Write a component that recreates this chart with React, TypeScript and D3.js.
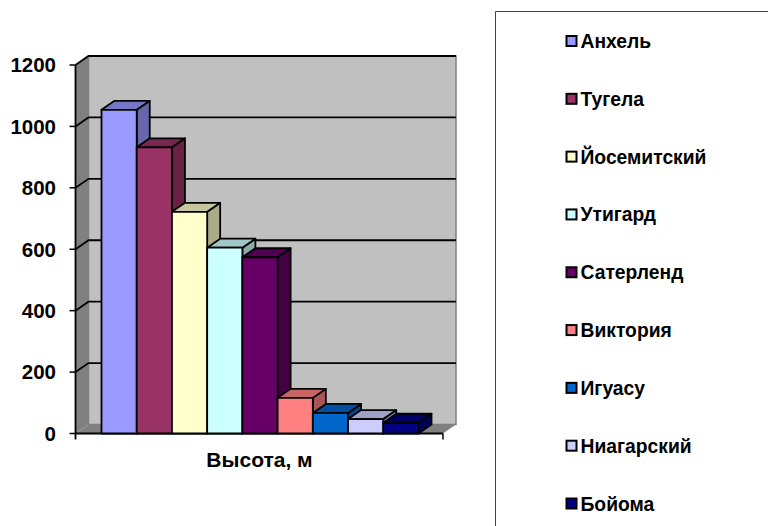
import React from "react";
import * as d3 from "d3";

const names = ["Анхель", "Тугела", "Йосемитский", "Утигард", "Сатерленд", "Виктория", "Игуасу", "Ниагарский", "Бойома"];
const heights = [1054, 932, 722, 605, 574, 116, 67, 47, 35];
const colors = ["#9999ff", "#993366", "#ffffcc", "#ccffff", "#660066", "#ff8080", "#0066cc", "#ccccff", "#000080"];
const yTicks = [0, 200, 400, 600, 800, 1000, 1200];
const axisTitle = "Высота, м";

const font = "'Liberation Sans', Arial, sans-serif";
const depthX = 13;
const depthY = -9;

const y = d3.scaleLinear().domain([0, 1200]).range([433.5, 65]);
const x = d3.scaleBand<string>().domain(names).range([101.5, 418.5]);
const legendY = d3.scalePoint<string>().domain(names).range([41, 503.5]);

const shade = (c: string, k: number) => {
  const r = d3.rgb(c);
  return d3.rgb(r.r * k, r.g * k, r.b * k).formatHex();
};

const poly = (pts: [number, number][]) => d3.line()(pts) + "Z";

export default function App() {
  const x0 = 75.5;
  const x1 = 443;
  const base = y(0);
  const top = y(1200);

  return (
    <svg width={768} height={526} style={{ position: "absolute", left: 0, top: 0 }}>
      <rect width={768} height={526} fill="#fff" />

      {/* walls and floor */}
      <path d={poly([[x0 + depthX, top + depthY], [x1 + depthX, top + depthY], [x1 + depthX, base + depthY], [x0 + depthX, base + depthY]])} fill="#c0c0c0" stroke="#808080" strokeWidth={1.5} />
      <path d={poly([[x0, top], [x0 + depthX, top + depthY], [x0 + depthX, base + depthY], [x0, base]])} fill="#808080" />
      <path d={poly([[x0, base], [x0 + depthX, base + depthY], [x1 + depthX, base + depthY], [x1, base]])} fill="#808080" />

      {/* gridlines */}
      {yTicks.filter((t) => t > 0).map((t) => (
        <path
          key={t}
          d={d3.line()([[x0, y(t)], [x0 + depthX, y(t) + depthY], [x1 + depthX, y(t) + depthY]]) ?? ""}
          fill="none"
          stroke="#000"
          strokeWidth={1.8}
        />
      ))}

      {/* axes */}
      <line x1={x0} x2={x0} y1={top} y2={base + 6} stroke="#000" strokeWidth={1.8} />
      <line x1={x0} x2={x1} y1={base} y2={base} stroke="#000" strokeWidth={1.8} />
      <line x1={x1} x2={x1} y1={base} y2={base + 6} stroke="#000" strokeWidth={1.5} />
      {yTicks.map((t) => (
        <g key={t}>
          <line x1={x0 - 6} x2={x0} y1={y(t)} y2={y(t)} stroke="#000" strokeWidth={1.5} />
          <text x={56} y={y(t) + 7.3} textAnchor="end" fontFamily={font} fontWeight="bold" fontSize={20.5} fill="#000">
            {t}
          </text>
        </g>
      ))}
      <text x={259.5} y={466.5} textAnchor="middle" fontFamily={font} fontWeight="bold" fontSize={21} fill="#000">
        {axisTitle}
      </text>

      {/* bars */}
      {names.map((n, i) => {
        const bx = x(n) as number;
        const w = x.bandwidth();
        const by = y(heights[i]);
        return (
          <g key={n} stroke="#000" strokeWidth={1.8} strokeLinejoin="round">
            <path d={poly([[bx + w, by], [bx + w + depthX, by + depthY], [bx + w + depthX, base + depthY], [bx + w, base]])} fill={shade(colors[i], 0.67)} />
            <path d={poly([[bx, by], [bx + depthX, by + depthY], [bx + w + depthX, by + depthY], [bx + w, by]])} fill={shade(colors[i], 0.78)} />
            <rect x={bx} y={by} width={w} height={base - by} fill={colors[i]} />
          </g>
        );
      })}

      {/* legend */}
      <path d="M768,11.5H495.5V526" fill="none" stroke="#444" strokeWidth={1} />
      {names.map((n, i) => {
        const ly = legendY(n) as number;
        return (
          <g key={n}>
            <rect x={566.5} y={ly - 5} width={10} height={10} fill={colors[i]} stroke="#000" strokeWidth={2} />
            <text x={580.5} y={ly + 7} fontFamily={font} fontWeight="bold" fontSize={19.3} fill="#000">
              {n}
            </text>
          </g>
        );
      })}
    </svg>
  );
}
